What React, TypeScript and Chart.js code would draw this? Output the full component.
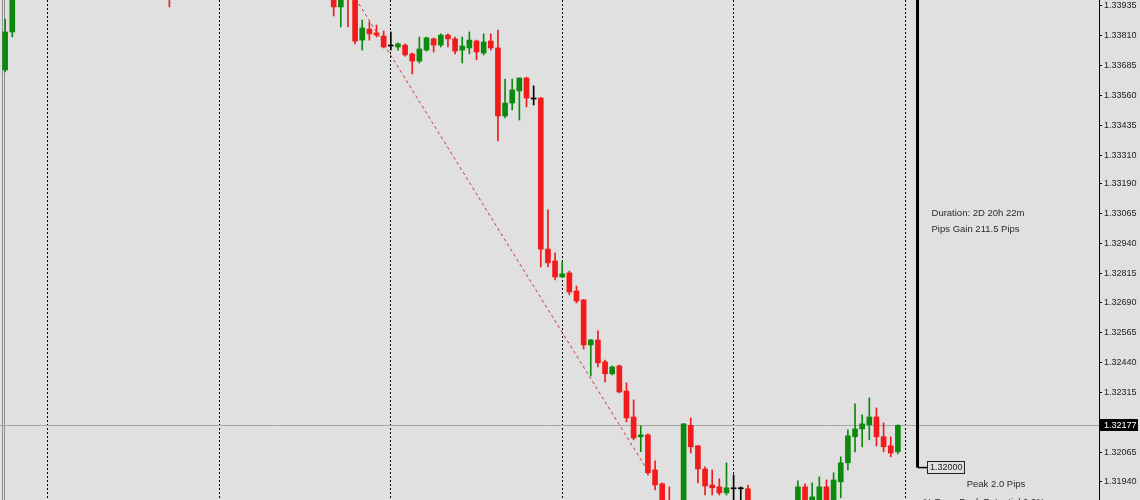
import { useEffect, useRef } from "react";
import { Chart, registerables } from "chart.js";

Chart.register(...registerables);

// Hourly bars, numbered from the first bar on screen; bar 0 opens the first session shown.
const firstBar = -6;

const opens = [
  1.33667, 1.33826, 1.34010, 1.34052, 1.34095, 1.34075, 1.34108, 1.34142, 1.34125, 1.34110,
  1.34130, 1.34155, 1.34140, 1.34112, 1.34095, 1.34118, 1.34170, 1.34210, 1.34185, 1.34135,
  1.34095, 1.34050, 1.34070, 1.34020, 1.33985, 1.34045, 1.34088, 1.34075, 1.34098, 1.34135,
  1.34172, 1.34160, 1.34128, 1.34145, 1.34188, 1.34225, 1.34205, 1.34178, 1.34195, 1.34158,
  1.34130, 1.34150, 1.34172, 1.34145, 1.34110, 1.34138, 1.34118, 1.33931, 1.34005, 1.33975,
  1.33792, 1.33838, 1.33822, 1.33809, 1.33767, 1.33763, 1.33771, 1.33734, 1.33704, 1.33750,
  1.33797, 1.33771, 1.33813, 1.33797, 1.33750, 1.33759, 1.33788, 1.33738, 1.33788, 1.33759,
  1.33474, 1.33528, 1.33579, 1.33633, 1.33545, 1.33549, 1.32916, 1.32866, 1.32799, 1.32816,
  1.32740, 1.32703, 1.32514, 1.32535, 1.32443, 1.32393, 1.32426, 1.32321, 1.32212, 1.32129,
  1.32137, 1.31990, 1.31932, 1.31838, 1.31790, 1.31820, 1.32177, 1.32091, 1.31994, 1.31927,
  1.31919, 1.31894, 1.31911, 1.31911, 1.31911, 1.31840, 1.31800, 1.31770, 1.31790, 1.31825,
  1.31805, 1.31830, 1.31919, 1.31850, 1.31860, 1.31919, 1.31850, 1.31940, 1.32020, 1.32129,
  1.32162, 1.32179, 1.32212, 1.32129, 1.32091, 1.32066,
];

const highs = [
  1.33880, 1.34030, 1.34065, 1.34110, 1.34140, 1.34120, 1.34160, 1.34175, 1.34150, 1.34138,
  1.34168, 1.34190, 1.34160, 1.34135, 1.34125, 1.34180, 1.34230, 1.34245, 1.34200, 1.34160,
  1.34110, 1.34085, 1.34090, 1.34045, 1.34060, 1.34100, 1.34130, 1.34110, 1.34150, 1.34190,
  1.34220, 1.34185, 1.34160, 1.34200, 1.34240, 1.34260, 1.34230, 1.34210, 1.34225, 1.34180,
  1.34165, 1.34190, 1.34200, 1.34170, 1.34150, 1.34165, 1.34140, 1.34030, 1.34020, 1.33990,
  1.33876, 1.33868, 1.33855, 1.33830, 1.33826, 1.33780, 1.33776, 1.33738, 1.33805, 1.33805,
  1.33801, 1.33818, 1.33818, 1.33805, 1.33805, 1.33826, 1.33792, 1.33818, 1.33818, 1.33834,
  1.33629, 1.33629, 1.33633, 1.33637, 1.33600, 1.33552, 1.33080, 1.32900, 1.32862, 1.32824,
  1.32761, 1.32705, 1.32537, 1.32573, 1.32451, 1.32426, 1.32430, 1.32355, 1.32284, 1.32175,
  1.32141, 1.32028, 1.31936, 1.31919, 1.31850, 1.32185, 1.32208, 1.32093, 1.32003, 1.31990,
  1.31953, 1.32020, 1.31969, 1.31919, 1.31927, 1.31858, 1.31830, 1.31810, 1.31845, 1.31855,
  1.31840, 1.31944, 1.31932, 1.31936, 1.31961, 1.31948, 1.31978, 1.32045, 1.32158, 1.32267,
  1.32221, 1.32292, 1.32250, 1.32187, 1.32129, 1.32179,
];

const lows = [
  1.33658, 1.33805, 1.33990, 1.34030, 1.34060, 1.34050, 1.34090, 1.34110, 1.34095, 1.34085,
  1.34115, 1.34130, 1.34100, 1.34080, 1.34070, 1.34105, 1.34150, 1.34170, 1.34120, 1.34080,
  1.34030, 1.34010, 1.34000, 1.33931, 1.33978, 1.34025, 1.34060, 1.34040, 1.34080, 1.34120,
  1.34140, 1.34110, 1.34095, 1.34130, 1.34170, 1.34190, 1.34160, 1.34150, 1.34140, 1.34110,
  1.34100, 1.34125, 1.34130, 1.34090, 1.34085, 1.34100, 1.33893, 1.33847, 1.33847, 1.33776,
  1.33750, 1.33792, 1.33805, 1.33759, 1.33750, 1.33750, 1.33725, 1.33650, 1.33696, 1.33746,
  1.33742, 1.33763, 1.33763, 1.33734, 1.33696, 1.33734, 1.33709, 1.33730, 1.33750, 1.33369,
  1.33466, 1.33499, 1.33457, 1.33512, 1.33520, 1.32841, 1.32841, 1.32787, 1.32799, 1.32724,
  1.32690, 1.32497, 1.32384, 1.32422, 1.32359, 1.32388, 1.32313, 1.32191, 1.32116, 1.32066,
  1.31969, 1.31906, 1.31810, 1.31765, 1.31740, 1.31800, 1.32061, 1.31936, 1.31885, 1.31885,
  1.31885, 1.31885, 1.31850, 1.31850, 1.31820, 1.31780, 1.31745, 1.31730, 1.31765, 1.31790,
  1.31780, 1.31810, 1.31820, 1.31830, 1.31840, 1.31830, 1.31835, 1.31873, 1.31990, 1.32066,
  1.32087, 1.32116, 1.32091, 1.32066, 1.32045, 1.32057,
];

const closes = [
  1.33826, 1.34010, 1.34052, 1.34095, 1.34075, 1.34108, 1.34142, 1.34125, 1.34110, 1.34130,
  1.34155, 1.34140, 1.34112, 1.34095, 1.34118, 1.34170, 1.34210, 1.34185, 1.34135, 1.34095,
  1.34050, 1.34070, 1.34020, 1.33985, 1.34045, 1.34088, 1.34075, 1.34098, 1.34135, 1.34172,
  1.34160, 1.34128, 1.34145, 1.34188, 1.34225, 1.34205, 1.34178, 1.34195, 1.34158, 1.34130,
  1.34150, 1.34172, 1.34145, 1.34110, 1.34138, 1.34118, 1.33931, 1.34005, 1.33975, 1.33788,
  1.33843, 1.33818, 1.33813, 1.33763, 1.33767, 1.33776, 1.33730, 1.33704, 1.33755, 1.33801,
  1.33771, 1.33813, 1.33797, 1.33746, 1.33767, 1.33792, 1.33742, 1.33784, 1.33759, 1.33474,
  1.33528, 1.33583, 1.33633, 1.33549, 1.33545, 1.32916, 1.32858, 1.32799, 1.32812, 1.32736,
  1.32698, 1.32514, 1.32535, 1.32439, 1.32393, 1.32422, 1.32317, 1.32208, 1.32124, 1.32137,
  1.31978, 1.31927, 1.31835, 1.31790, 1.31820, 1.32183, 1.32087, 1.31994, 1.31923, 1.31915,
  1.31894, 1.31915, 1.31911, 1.31911, 1.31840, 1.31800, 1.31770, 1.31790, 1.31825, 1.31805,
  1.31830, 1.31919, 1.31845, 1.31877, 1.31919, 1.31850, 1.31948, 1.32020, 1.32133, 1.32162,
  1.32183, 1.32212, 1.32129, 1.32087, 1.32061, 1.32177,
];

// Price scale labels as printed on the terminal's axis
const priceTicks = [
  1.33935, 1.3381, 1.33685, 1.3356, 1.33435, 1.3331, 1.3319, 1.33065, 1.3294,
  1.32815, 1.3269, 1.32565, 1.3244, 1.32315, 1.32065, 1.3194,
];

// Session separators (bar numbers)
const sessionStarts = [0, 24, 48, 72, 96, 120];

const bidPrice = 1.32177;

// Trade history line: entry and exit
const tradeBars = [40, 83.7];
const tradePrices = [1.34115, 1.32];

// Trade summary marker
const summaryBar = 121.75;
const summaryTagBar = 123.1;
const summaryPrices = [1.34115, 1.32];
const durationText = "Duration: 2D 20h 22m";
const pipsText = "Pips Gain 211.5 Pips";
const peakText = "Peak 2.0 Pips";
const potentialText = "% From Peak Potential 0.0%";

// Visible window
const viewBars = [-6.72, 147.16];
const viewPrices = [1.31864, 1.3396];

const UP = "#0d8a0d";
const DOWN = "#f21a1a";
const FLAT = "#000000";
const FONT = "'Liberation Sans', Arial, sans-serif";

const barNumbers = opens.map((_, i) => firstBar + i);
const candleColors = opens.map((o, i) =>
  closes[i] > o ? UP : closes[i] < o ? DOWN : FLAT
);

const terminalOverlay = {
  id: "terminalOverlay",
  beforeDatasetsDraw(chart: any) {
    const { ctx, chartArea, scales } = chart;
    const y = Math.round(scales.y.getPixelForValue(bidPrice)) + 0.5;
    ctx.save();
    ctx.strokeStyle = "#a6a6a6";
    ctx.lineWidth = 1;
    ctx.beginPath();
    ctx.moveTo(chartArea.left, y);
    ctx.lineTo(chartArea.right, y);
    ctx.stroke();
    ctx.restore();
  },
  afterDraw(chart: any) {
    const { ctx, chartArea, scales } = chart;
    const xs = scales.x;
    const ys = scales.y;
    ctx.save();
    ctx.textBaseline = "middle";
    ctx.textAlign = "left";

    // Bid price tag on the axis
    const by = Math.round(ys.getPixelForValue(bidPrice));
    ctx.fillStyle = "#000";
    ctx.fillRect(chartArea.right + 1, by - 6, 38, 12);
    ctx.fillStyle = "#fff";
    ctx.font = `9px ${FONT}`;
    ctx.fillText(bidPrice.toFixed(5), chartArea.right + 5, by + 0.5);

    // Exit price tag
    const tx = Math.round(xs.getPixelForValue(summaryTagBar)) + 0.5;
    const ty = Math.round(ys.getPixelForValue(summaryPrices[1]));
    ctx.strokeStyle = "#222";
    ctx.lineWidth = 1;
    ctx.strokeRect(tx, ty - 6.5, 37, 12);
    ctx.fillStyle = "#222";
    ctx.fillText(summaryPrices[1].toFixed(5), tx + 2.5, ty);

    // Summary text
    const lx = xs.getPixelForValue(summaryBar);
    ctx.font = `9.5px ${FONT}`;
    ctx.fillStyle = "#2a2a2a";
    ctx.fillText(durationText, lx + 14, chartArea.top + 213);
    ctx.fillText(pipsText, lx + 14, chartArea.top + 229);
    ctx.textAlign = "center";
    ctx.fillText(peakText, lx + 78.5, ty + 16);
    ctx.fillText(potentialText, lx + 66.5, ty + 34);
    ctx.restore();
  },
};

export default function App() {
  const ref = useRef<HTMLCanvasElement>(null);

  useEffect(() => {
    const canvas = ref.current;
    if (!canvas) return;

    const chart = new Chart(canvas, {
      type: "bar",
      data: {
        datasets: [
          {
            label: "body",
            data: barNumbers.map((b, i) => ({ x: b, y: [opens[i], closes[i]] })) as any,
            backgroundColor: candleColors,
            barThickness: 5,
            minBarLength: 1,
            grouped: false,
            borderWidth: 0,
            clip: 0 as any,
            order: 0,
          },
          {
            label: "wick",
            data: barNumbers.map((b, i) => ({ x: b, y: [lows[i], highs[i]] })) as any,
            backgroundColor: candleColors,
            barThickness: 1,
            grouped: false,
            borderWidth: 0,
            clip: 0 as any,
            order: 1,
          },
          {
            type: "line",
            label: "trade",
            data: tradeBars.map((b, i) => ({ x: b, y: tradePrices[i] })),
            borderColor: "#c83434",
            borderWidth: 1,
            borderDash: [3, 3],
            pointRadius: 0,
            order: 3,
          } as any,
          {
            type: "line",
            label: "summary",
            data: [
              { x: summaryBar, y: summaryPrices[0] },
              { x: summaryBar, y: summaryPrices[1] },
            ],
            borderColor: "#000",
            borderWidth: 3,
            pointRadius: 0,
            order: 2,
          } as any,
          {
            type: "line",
            label: "summaryTag",
            data: [
              { x: summaryBar, y: summaryPrices[1] },
              { x: summaryTagBar, y: summaryPrices[1] },
            ],
            borderColor: "#000",
            borderWidth: 1.5,
            pointRadius: 0,
            order: 2,
          } as any,
        ],
      },
      options: {
        responsive: false,
        devicePixelRatio: 1,
        animation: false,
        events: [],
        layout: { padding: 0 },
        plugins: {
          legend: { display: false },
          tooltip: { enabled: false },
        },
        scales: {
          x: {
            type: "linear",
            min: viewBars[0],
            max: viewBars[1],
            offset: false,
            afterBuildTicks: (s: any) => {
              s.ticks = sessionStarts.map((v) => ({ value: v }));
            },
            afterFit: (s: any) => {
              s.height = 0;
              s.paddingLeft = 0;
              s.paddingRight = 0;
            },
            ticks: { display: false },
            grid: {
              display: true,
              offset: false,
              color: "#000",
              lineWidth: 1,
              drawTicks: false,
            },
            border: { display: false, dash: [2, 2] },
          },
          y: {
            type: "linear",
            position: "right",
            min: viewPrices[0],
            max: viewPrices[1],
            afterBuildTicks: (s: any) => {
              s.ticks = priceTicks.map((v) => ({ value: v }));
            },
            afterFit: (s: any) => {
              s.width = 41;
              s.paddingTop = 0;
              s.paddingBottom = 0;
            },
            ticks: {
              autoSkip: false,
              padding: 2,
              color: "#222",
              font: { family: FONT, size: 9 },
              callback: (v: any) => Number(v).toFixed(5),
            },
            grid: {
              display: true,
              drawOnChartArea: false,
              drawTicks: true,
              tickLength: 3,
              tickColor: "#000",
              color: "#000",
            },
            border: { display: true, color: "#000", width: 1 },
          },
        },
      },
      plugins: [terminalOverlay],
    } as any);

    return () => chart.destroy();
  }, []);

  return (
    <div
      style={{
        position: "fixed",
        left: 0,
        top: 0,
        width: 1140,
        height: 500,
        background: "#e0e0e0",
        overflow: "hidden",
      }}
    >
      <div
        style={{
          position: "absolute",
          left: 2,
          top: 0,
          width: 1,
          height: 500,
          borderLeft: "1px solid #8e8e8e",
          borderRight: "1px solid #8e8e8e",
        }}
      />
      <canvas
        ref={ref}
        width={1140}
        height={500}
        style={{ position: "absolute", left: 0, top: 0, width: 1140, height: 500 }}
      />
    </div>
  );
}
